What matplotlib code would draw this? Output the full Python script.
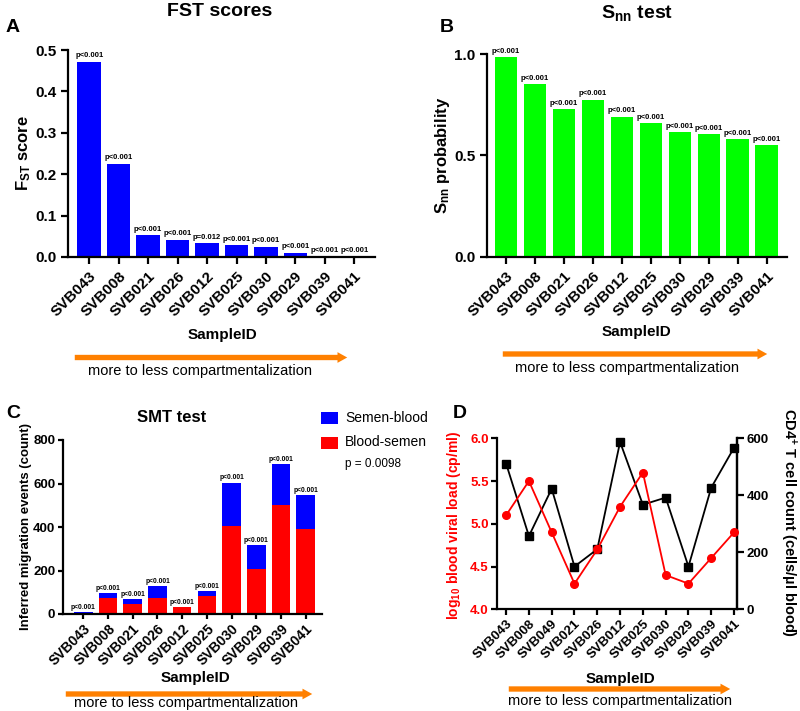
import matplotlib
matplotlib.use("Agg")
import matplotlib.pyplot as plt
from matplotlib.patches import FancyArrowPatch, ArrowStyle, Rectangle
import numpy as np

plt.rcParams['font.family'] = ['Liberation Sans', 'DejaVu Sans']
plt.rcParams['mathtext.fontset'] = 'custom'
plt.rcParams['mathtext.rm'] = 'Liberation Sans'
plt.rcParams['mathtext.bf'] = 'Liberation Sans:bold'
plt.rcParams['mathtext.it'] = 'Liberation Sans:italic'

# ---------------- data ----------------
samples_ab = ["SVB043", "SVB008", "SVB021", "SVB026", "SVB012",
              "SVB025", "SVB030", "SVB029", "SVB039", "SVB041"]
fst_scores = [0.472, 0.225, 0.053, 0.042, 0.033, 0.028, 0.025, 0.010, 0.001, 0.0005]
fst_pvals = ["p<0.001", "p<0.001", "p<0.001", "p<0.001", "p=0.012",
             "p<0.001", "p<0.001", "p<0.001", "p<0.001", "p<0.001"]
snn_prob = [0.984, 0.851, 0.729, 0.775, 0.690, 0.659, 0.616, 0.604, 0.581, 0.552]
snn_pvals = ["p<0.001"] * 10

samples_c = ["SVB043", "SVB008", "SVB021", "SVB026", "SVB012",
             "SVB025", "SVB030", "SVB029", "SVB039", "SVB041"]
blood_semen = [5, 75, 47, 75, 32, 84, 406, 207, 501, 391]
semen_blood = [5, 20, 22, 52, 0, 20, 198, 110, 187, 156]
smt_pvals = ["p<0.001"] * 10

samples_d = ["SVB043", "SVB008", "SVB049", "SVB021", "SVB026", "SVB012",
             "SVB025", "SVB030", "SVB029", "SVB039", "SVB041"]
viral_load = [5.1, 5.5, 4.9, 4.3, 4.7, 5.2, 5.6, 4.4, 4.3, 4.6, 4.9]
cd4_count = [511, 257, 423, 150, 211, 587, 367, 392, 150, 427, 567]

BLUE = '#0000FF'
GREEN = '#00FF00'
RED = '#FF0000'
ORANGE = '#FF8000'

W, H = 800, 711
fig = plt.figure(figsize=(8.0, 7.11), dpi=100)


def ax_rect(l, r, t, b):
    return [l / W, (H - b) / H, (r - l) / W, (b - t) / H]


def style_axes(ax, right=False, length=5, pad=3.5):
    for s in ['top'] + ([] if right else ['right']):
        ax.spines[s].set_visible(False)
    for s in ['left', 'bottom', 'right']:
        ax.spines[s].set_linewidth(1.6)
    ax.tick_params(width=1.6, length=length, direction='out', pad=pad)


def fig_text(x, y, s, **kw):
    fig.text(x / W, (H - y) / H, s, **kw)


def fig_arrow(x0, x1, y):
    a = FancyArrowPatch((x0 / W, (H - y) / H), (x1 / W, (H - y) / H),
                        transform=fig.transFigure,
                        arrowstyle=ArrowStyle.Simple(head_length=1.0, head_width=1.1, tail_width=0.55),
                        mutation_scale=7, color=ORANGE, lw=0)
    fig.add_artist(a)


def xlabels(ax, labels, size):
    ax.set_xticks(np.arange(len(labels)))
    ax.set_xticklabels(labels, rotation=45, ha='right', rotation_mode='anchor',
                       fontsize=size, fontweight='bold')


# ---------------- Panel A ----------------
axA = fig.add_axes(ax_rect(68, 375, 50, 257))
xa = np.arange(len(samples_ab))
axA.bar(xa, fst_scores, width=0.8, color=BLUE)
for xi, v, p in zip(xa, fst_scores, fst_pvals):
    axA.text(xi, v + 0.006, p, ha='center', va='bottom', fontsize=5.5,
             fontweight='bold', clip_on=False)
axA.set_xlim(-0.72, 9.7)
axA.set_ylim(0, 0.5)
axA.set_yticks([0.0, 0.1, 0.2, 0.3, 0.4, 0.5])
axA.set_yticklabels(['0.0', '0.1', '0.2', '0.3', '0.4', '0.5'], fontsize=11, fontweight='bold')
xlabels(axA, samples_ab, 11)
style_axes(axA)
axA.set_ylabel(r'F$_{\mathbf{ST}}$ score', fontsize=12, fontweight='bold')
axA.yaxis.set_label_coords(-0.114, 0.5)
fig_text(220, 11, 'FST scores', ha='center', va='center', fontsize=14, fontweight='bold')
fig_text(13, 28, 'A', ha='center', va='center', fontsize=14, fontweight='bold')
fig_text(222, 335, 'SampleID', ha='center', va='center', fontsize=11, fontweight='bold')
fig_arrow(72, 350, 357.5)
fig_text(200, 371, 'more to less compartmentalization', ha='center', va='center', fontsize=10.5)

# ---------------- Panel B ----------------
axB = fig.add_axes(ax_rect(487, 787, 54, 257))
axB.bar(xa, snn_prob, width=0.78, color=GREEN)
for xi, v, p in zip(xa, snn_prob, snn_pvals):
    axB.text(xi, v + 0.012, p, ha='center', va='bottom', fontsize=5.5,
             fontweight='bold', clip_on=False)
axB.set_xlim(-0.66, 9.7)
axB.set_ylim(0, 1.0)
axB.set_yticks([0.0, 0.5, 1.0])
axB.set_yticklabels(['0.0', '0.5', '1.0'], fontsize=11, fontweight='bold')
xlabels(axB, samples_ab, 11)
style_axes(axB)
axB.set_ylabel(r'S$_{\mathbf{nn}}$ probability', fontsize=12, fontweight='bold')
axB.yaxis.set_label_coords(-0.117, 0.5)
fig_text(637, 13, r'S$_{\mathbf{nn}}$ test', ha='center', va='center', fontsize=14, fontweight='bold')
fig_text(447, 27, 'B', ha='center', va='center', fontsize=14, fontweight='bold')
fig_text(636, 332, 'SampleID', ha='center', va='center', fontsize=11, fontweight='bold')
fig_arrow(500, 770, 354)
fig_text(627, 368, 'more to less compartmentalization', ha='center', va='center', fontsize=10.5)

# ---------------- Panel C ----------------
axC = fig.add_axes(ax_rect(63, 322, 440, 614))
xc = np.arange(len(samples_c))
axC.bar(xc, blood_semen, width=0.75, color=RED, label='Blood-semen')
axC.bar(xc, semen_blood, width=0.75, bottom=blood_semen, color=BLUE, label='Semen-blood')
for xi, a, b, p in zip(xc, blood_semen, semen_blood, smt_pvals):
    axC.text(xi, a + b + 6, p, ha='center', va='bottom', fontsize=4.8,
             fontweight='bold', clip_on=False)
axC.set_xlim(-0.82, 9.66)
axC.set_ylim(0, 800)
axC.set_yticks([0, 200, 400, 600, 800])
axC.set_yticklabels(['0', '200', '400', '600', '800'], fontsize=9.5, fontweight='bold')
xlabels(axC, samples_c, 10)
style_axes(axC, length=3.5, pad=2)
axC.set_ylabel('Inferred migration events (count)', fontsize=9.5, fontweight='bold')
axC.yaxis.set_label_coords(-0.118, 0.5)
fig_text(172, 417, 'SMT test', ha='center', va='center', fontsize=12, fontweight='bold')
fig_text(13, 413, 'C', ha='center', va='center', fontsize=14, fontweight='bold')
# legend
fig.add_artist(Rectangle((321 / W, (H - 424) / H), 17 / W, 12 / H, transform=fig.transFigure,
                         color=BLUE, lw=0))
fig.add_artist(Rectangle((321 / W, (H - 448.5) / H), 17 / W, 12 / H, transform=fig.transFigure,
                         color=RED, lw=0))
fig_text(345, 418, 'Semen-blood', ha='left', va='center', fontsize=10)
fig_text(345, 442.5, 'Blood-semen', ha='left', va='center', fontsize=10)
fig_text(345, 464, 'p = 0.0098', ha='left', va='center', fontsize=8.5)
fig_text(195, 678, 'SampleID', ha='center', va='center', fontsize=11, fontweight='bold')
fig_arrow(63, 315, 694)
fig_text(186, 703, 'more to less compartmentalization', ha='center', va='center', fontsize=10.5)

# ---------------- Panel D ----------------
axD = fig.add_axes(ax_rect(497, 737, 438.3, 609.3))
xd = np.arange(len(samples_d))
axD.plot(xd, viral_load, color=RED, marker='o', markersize=5.5, lw=1.3, zorder=3, clip_on=False)
axD.set_xlim(-0.4, 10.13)
axD.set_ylim(4.0, 6.0)
axD.set_yticks([4.0, 4.5, 5.0, 5.5, 6.0])
axD.set_yticklabels(['4.0', '4.5', '5.0', '5.5', '6.0'], fontsize=9.5, fontweight='bold', color=RED)
xlabels(axD, samples_d, 9.5)
style_axes(axD, right=True, length=4, pad=2)
axD.set_ylabel(r'log$_{\mathbf{10}}$ blood viral load (cp/ml)', fontsize=10,
               fontweight='bold', color=RED)
axD.yaxis.set_label_coords(-0.142, 0.49)
axD2 = axD.twinx()
axD2.plot(xd, cd4_count, color='black', marker='s', markersize=5.5, lw=1.3, zorder=2, clip_on=False)
axD2.set_ylim(0, 600)
axD2.set_yticks([0, 200, 400, 600])
axD2.set_yticklabels(['0', '200', '400', '600'], fontsize=9.5, fontweight='bold')
axD2.spines['top'].set_visible(False)
axD2.spines['left'].set_visible(False)
axD2.spines['bottom'].set_visible(False)
axD2.spines['right'].set_linewidth(1.6)
axD2.tick_params(width=1.6, length=5, direction='out', pad=2)
axD2.set_ylabel(r'CD4$^{\mathbf{+}}$ T cell count (cells/µl blood)', fontsize=10.5,
                fontweight='bold', rotation=270, va='center', ha='center')
axD2.yaxis.set_label_coords(1.213, 0.51)
axD.set_zorder(axD2.get_zorder() + 1)
axD.patch.set_visible(False)
fig_text(460, 413, 'D', ha='center', va='center', fontsize=14, fontweight='bold')
fig_text(620, 679, 'SampleID', ha='center', va='center', fontsize=11, fontweight='bold')
fig_arrow(506, 733, 689)
fig_text(620, 701, 'more to less compartmentalization', ha='center', va='center', fontsize=10.5)

fig.savefig('out.png', dpi=100)
